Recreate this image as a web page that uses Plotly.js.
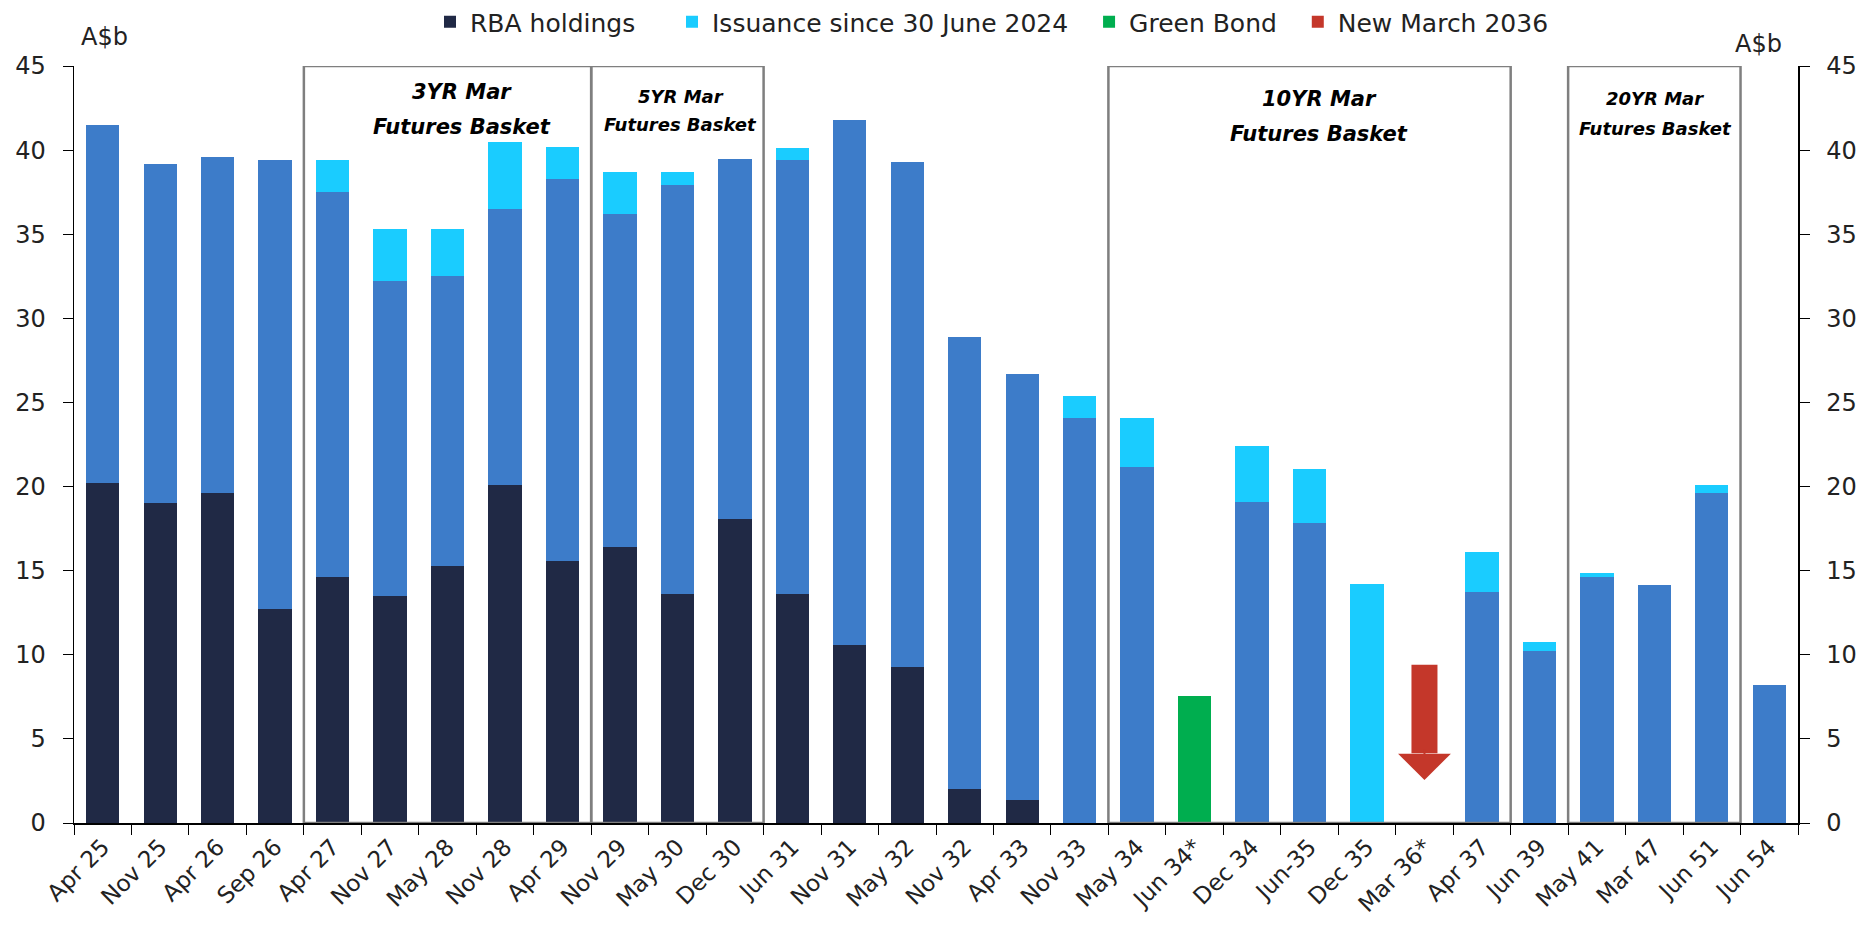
<!DOCTYPE html>
<html>
<head>
<meta charset="utf-8">
<script src="https://cdn.plot.ly/plotly-3.0.1.min.js"></script>
<style>
  html, body { margin: 0; padding: 0; background: #fff; }
  #chart { width: 1873px; height: 926px; }
</style>
</head>
<body>
<div id="chart"></div>
<script>
// bond lines
var bonds = ['Apr 25', 'Nov 25', 'Apr 26', 'Sep 26', 'Apr 27', 'Nov 27', 'May 28', 'Nov 28', 'Apr 29',
             'Nov 29', 'May 30', 'Dec 30', 'Jun 31', 'Nov 31', 'May 32', 'Nov 32', 'Apr 33', 'Nov 33',
             'May 34', 'Jun 34*', 'Dec 34', 'Jun-35', 'Dec 35', 'Mar 36*', 'Apr 37', 'Jun 39',
             'May 41', 'Mar 47', 'Jun 51', 'Jun 54'];

// A$b, segment sizes
var rbaHoldings = [20.2, 19.0, 19.6, 12.7, 14.6, 13.5, 15.3, 20.1, 15.6,
                   16.4, 13.6, 18.1, 13.6, 10.6, 9.3, 2.0, 1.35, 0,
                   0, 0, 0, 0, 0, 0, 0, 0,
                   0, 0, 0, 0];
var otherHoldings = [21.3, 20.2, 20.0, 26.7, 22.9, 18.7, 17.2, 16.4, 22.7,
                     19.8, 24.3, 21.4, 25.8, 31.2, 30.0, 26.9, 25.35, 24.05,
                     21.15, 0, 19.1, 17.85, 0, 0, 13.75, 10.2,
                     14.6, 14.15, 19.6, 8.2];
var issuance = [0, 0, 0, 0, 1.9, 3.1, 2.8, 4.0, 1.9,
                2.5, 0.8, 0, 0.7, 0, 0, 0, 0, 1.35,
                2.95, 0, 3.3, 3.2, 14.2, 0, 2.35, 0.55,
                0.25, 0, 0.5, 0];
var greenBond = [null, null, null, null, null, null, null, null, null,
                 null, null, null, null, null, null, null, null, null,
                 null, 7.55, null, null, null, null, null, null,
                 null, null, null, null];

// new March 2036 line: down arrow (shaft top, head base, tip)
var newBondLine = 'Mar 36*';
var arrowTop = 9.5;
var arrowHeadBase = 4.15;
var arrowTip = 2.55;

// futures baskets: first and last line in each box
var baskets = [
    {first: 'Apr 27', last: 'Apr 29', line1: '3YR Mar', line2: 'Futures Basket', size: 21, dx: 0.25, y1: 43.45, y2: 41.4},
    {first: 'Nov 29', last: 'Dec 30', line1: '5YR Mar', line2: 'Futures Basket', size: 18, dx: 0.06, y1: 43.2, y2: 41.5},
    {first: 'May 34', last: 'Apr 37', line1: '10YR Mar', line2: 'Futures Basket', size: 21, dx: 0.17, y1: 43.05, y2: 40.95},
    {first: 'May 41', last: 'Jun 51', line1: '20YR Mar', line2: 'Futures Basket', size: 18, dx: 0.02, y1: 43.05, y2: 41.3}
];

var font = 'DejaVu Sans, Verdana, sans-serif';
var pad = '\u00a0\u00a0';
var red = '#C4372A';

var data = [
    {type: 'bar', x: bonds, y: rbaHoldings, name: 'RBA holdings' + pad + pad,
     marker: {color: '#202945'}},
    {type: 'bar', x: bonds, y: otherHoldings, name: 'Other holdings', showlegend: false,
     marker: {color: '#3D7CC9'}},
    {type: 'bar', x: bonds, y: issuance, name: 'Issuance since 30 June 2024' + pad,
     marker: {color: '#1ACCFF'}},
    {type: 'bar', x: bonds, y: greenBond, name: 'Green Bond' + pad,
     marker: {color: '#00AE4F'}},
    {type: 'bar', x: bonds, y: bonds.map(function(){ return null; }), name: 'New March 2036',
     yaxis: 'y2', marker: {color: red}}
];

var shapes = [], annots = [];
baskets.forEach(function(b){
    var i0 = bonds.indexOf(b.first), i1 = bonds.indexOf(b.last);
    shapes.push({type: 'rect', xref: 'x', yref: 'y', x0: i0 - 0.5, x1: i1 + 0.5, y0: 0, y1: 45,
                 line: {color: '#7F7F7F', width: 2.5}, layer: 'above'});
    var cx = (i0 + i1) / 2 + b.dx;
    annots.push({xref: 'x', yref: 'y', x: cx, y: b.y1, text: b.line1, showarrow: false,
                 font: {family: font, size: b.size, weight: 700, style: 'italic', color: '#000'}});
    annots.push({xref: 'x', yref: 'y', x: cx, y: b.y2, text: b.line2, showarrow: false,
                 font: {family: font, size: b.size, weight: 700, style: 'italic', color: '#000'}});
});

// shaft
annots.push({xref: 'x', yref: 'y', axref: 'x', ayref: 'y', x: newBondLine, y: arrowHeadBase,
             ax: newBondLine, ay: arrowTop, text: '', showarrow: true,
             arrowhead: 0, arrowwidth: 26, arrowcolor: red, standoff: 0});
// head
annots.push({xref: 'x', yref: 'y', axref: 'x', ayref: 'y', x: newBondLine, y: arrowTip,
             ax: newBondLine, ay: arrowHeadBase + 0.3, text: '', showarrow: true,
             arrowhead: 1, arrowsize: 4.4, arrowwidth: 2, arrowcolor: red, standoff: 0});

annots.push({xref: 'paper', yref: 'paper', x: (104 - 74) / 1724, y: 1 + (66 - 37) / 757,
             xanchor: 'center', yanchor: 'middle',
             text: 'A$b', showarrow: false, font: {family: font, size: 24, color: '#222'}});
annots.push({xref: 'paper', yref: 'paper', x: (1758 - 74) / 1724, y: 1 + (66 - 44) / 757,
             xanchor: 'center', yanchor: 'middle',
             text: 'A$b', showarrow: false, font: {family: font, size: 24, color: '#222'}});

var axisStyle = {range: [0, 45], dtick: 5, ticks: 'outside', ticklen: 10, tickcolor: '#000',
                 showline: true, linecolor: '#000', linewidth: 1.5, showgrid: false, zeroline: false,
                 automargin: false, ticklabelstandoff: 12,
                 tickfont: {family: font, size: 24, color: '#222'}};

var layout = {
    width: 1873, height: 926,
    font: {family: font, color: '#222'},
    paper_bgcolor: '#fff', plot_bgcolor: '#fff',
    margin: {l: 74, r: 75, t: 66, b: 103, autoexpand: false},
    barmode: 'stack',
    bargap: 0.42,
    showlegend: true,
    legend: {orientation: 'h', x: (430 - 74) / 1724, xanchor: 'left', y: 1 + (66 - 22) / 757, yanchor: 'middle',
             traceorder: 'normal', font: {family: font, size: 25, color: '#222'}, bgcolor: 'rgba(0,0,0,0)'},
    xaxis: {type: 'category', tickangle: -45, ticks: 'outside', tickson: 'boundaries', ticklen: 10,
            tickcolor: '#000', showline: true, linecolor: '#000', linewidth: 1.5, showgrid: false,
            automargin: false, tickfont: {family: font, size: 23, color: '#222'}},
    yaxis: Object.assign({}, axisStyle),
    yaxis2: Object.assign({overlaying: 'y', side: 'right', anchor: 'x'}, axisStyle),
    shapes: shapes,
    annotations: annots
};

Plotly.newPlot('chart', data, layout, {displayModeBar: false, staticPlot: true});
</script>
</body>
</html>
